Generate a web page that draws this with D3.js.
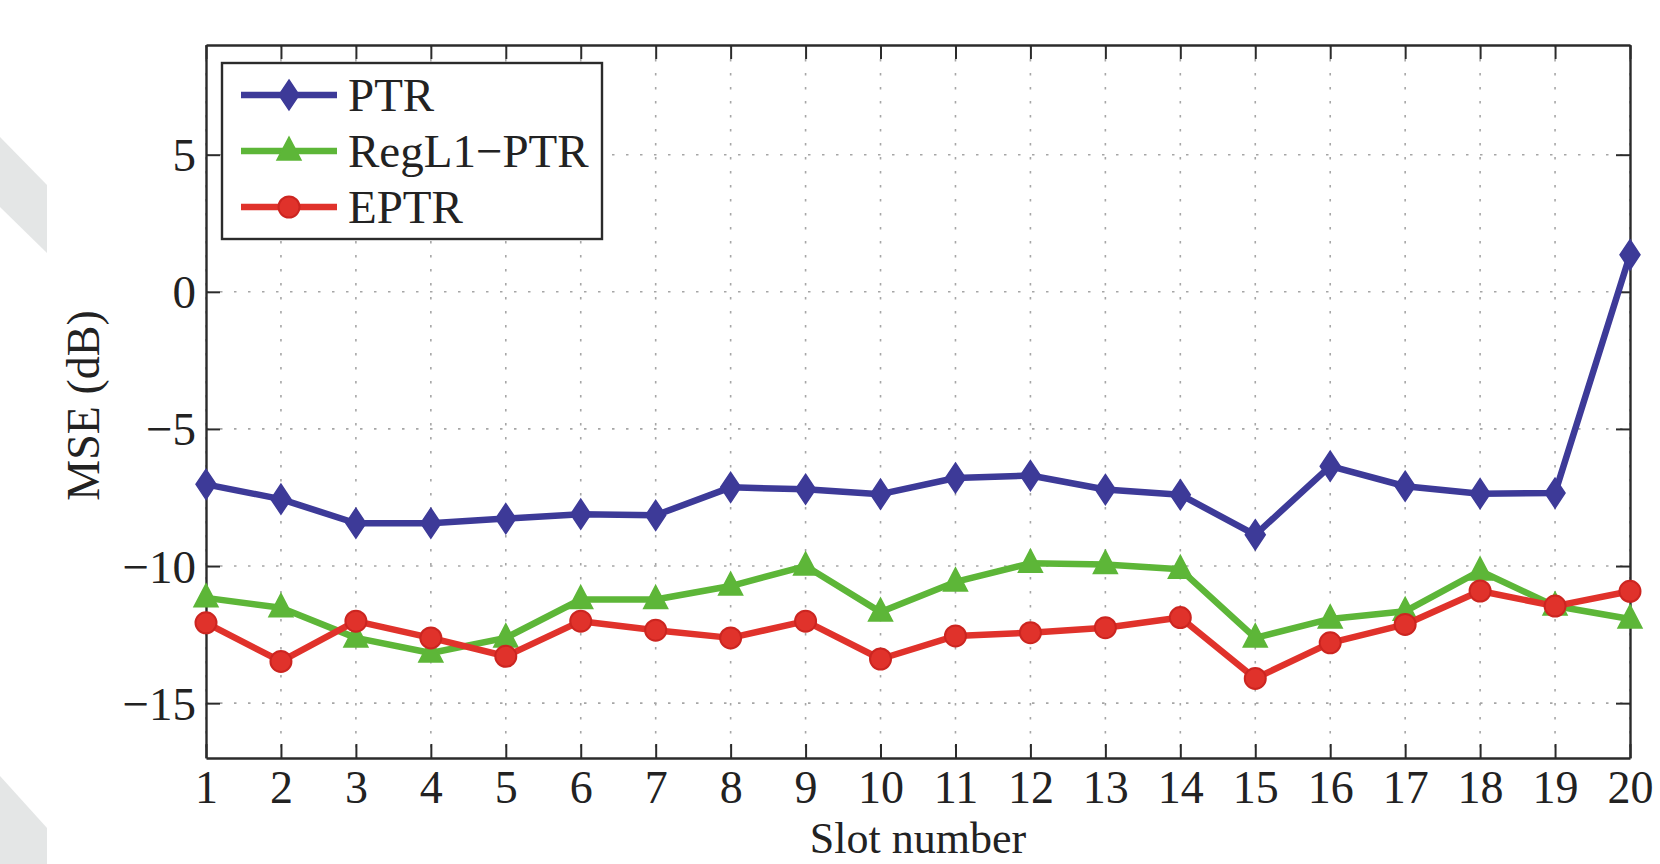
<!DOCTYPE html>
<html>
<head>
<meta charset="utf-8">
<script src="https://cdn.jsdelivr.net/npm/d3@7"></script>
<style>
  body { margin: 0; background: #fff; }
  svg { display: block; }
  text { font-family: "Liberation Serif", "DejaVu Serif", serif; fill: #222; }
</style>
</head>
<body>
<div id="chart-area"></div>
<script>

// slot numbers on the x axis
const slots = d3.range(1, 21);

// MSE (dB) per slot
const ptrValues = [-7.02, -7.56, -8.44, -8.44, -8.27, -8.11, -8.15, -7.13, -7.20, -7.38,
                   -6.79, -6.70, -7.21, -7.40, -8.86, -6.36, -7.09, -7.36, -7.34, 1.35];
const regl1Values = [-11.16, -11.52, -12.62, -13.17, -12.62, -11.22, -11.22, -10.73, -10.00, -11.68,
                     -10.58, -9.90, -9.94, -10.12, -12.62, -11.93, -11.65, -10.18, -11.46, -11.93];
const eptrValues = [-12.07, -13.48, -12.01, -12.62, -13.29, -12.01, -12.34, -12.62, -12.01, -13.39,
                    -12.55, -12.43, -12.25, -11.88, -14.10, -12.80, -12.13, -10.91, -11.46, -10.92];

const seriesNames = ["PTR", "RegL1\u2212PTR", "EPTR"];
const yTicks = [-15, -10, -5, 0, 5];

const width = 1660, height = 864;
const margin = {top: 45, right: 30, bottom: 106, left: 206};
const innerW = width - margin.left - margin.right;
const innerH = height - margin.top - margin.bottom;

const svg = d3.select("#chart-area").append("svg")
    .attr("width", width)
    .attr("height", height);

// faint grey watermark bands on the left edge
svg.append("polygon")
    .attr("points", "0,137 47,185 47,253 0,207")
    .attr("fill", "#e4e6e6");
svg.append("polygon")
    .attr("points", "0,776 47,828 47,864 0,864")
    .attr("fill", "#e4e6e6");

const g = svg.append("g")
    .attr("transform", "translate(" + margin.left + "," + margin.top + ")");

// scales
const x = d3.scaleLinear().domain([1, 20]).range([0, innerW]);
const y = d3.scaleLinear().domain([-17, 9]).range([innerH, 0]);

// dotted grid
g.append("g").attr("class", "grid")
    .selectAll("line.vgrid")
    .data(slots)
    .enter().append("line")
    .attr("x1", d => x(d)).attr("x2", d => x(d))
    .attr("y1", 0).attr("y2", innerH)
    .attr("stroke", "#a6a6a6")
    .attr("stroke-width", 1.6)
    .attr("stroke-dasharray", "2.5,11.5");

g.append("g").attr("class", "grid")
    .selectAll("line.hgrid")
    .data(yTicks)
    .enter().append("line")
    .attr("x1", 0).attr("x2", innerW)
    .attr("y1", d => y(d)).attr("y2", d => y(d))
    .attr("stroke", "#a6a6a6")
    .attr("stroke-width", 1.6)
    .attr("stroke-dasharray", "2.5,11.5");

// axes (MATLAB style: inward ticks on all four sides)
const tickLen = 14;
const fmt = d => d < 0 ? "\u2212" + Math.abs(d) : String(d);

const xAxis = g.append("g")
    .attr("class", "x-axis axis")
    .attr("transform", "translate(0," + innerH + ")")
    .call(d3.axisBottom(x).tickValues(slots).tickFormat(d3.format("d"))
        .tickSizeInner(-tickLen).tickSizeOuter(0).tickPadding(12));

g.append("g")
    .attr("class", "x-axis-top axis")
    .call(d3.axisTop(x).tickValues(slots).tickFormat("")
        .tickSizeInner(-tickLen).tickSizeOuter(0));

const yAxis = g.append("g")
    .attr("class", "y-axis axis")
    .call(d3.axisLeft(y).tickValues(yTicks).tickFormat(fmt)
        .tickSizeInner(-tickLen).tickSizeOuter(0).tickPadding(10));

g.append("g")
    .attr("class", "y-axis-right axis")
    .attr("transform", "translate(" + innerW + ",0)")
    .call(d3.axisRight(y).tickValues(yTicks).tickFormat("")
        .tickSizeInner(-tickLen).tickSizeOuter(0));

g.selectAll(".axis path").attr("stroke", "#2b2b2b").attr("stroke-width", 2.4);
g.selectAll(".axis line").attr("stroke", "#2b2b2b").attr("stroke-width", 2);
g.selectAll(".axis text")
    .style("font-family", "'Liberation Serif', serif")
    .style("font-size", "47px")
    .attr("fill", "#222");
xAxis.selectAll("text").style("font-size", "46px").attr("dy", "0.71em");
yAxis.selectAll("text").attr("dy", "0.34em");

// axis titles
svg.append("text")
    .attr("x", margin.left + innerW / 2)
    .attr("y", 853)
    .attr("text-anchor", "middle")
    .style("font-size", "44px")
    .text("Slot number");

svg.append("text")
    .attr("transform", "translate(99," + (margin.top + innerH / 2 + 4) + ") rotate(-90)")
    .attr("text-anchor", "middle")
    .style("font-size", "46px")
    .text("MSE (dB)");

// series
const series = [
    {name: seriesNames[0], values: ptrValues, colour: "#3d3a98", marker: "diamond"},
    {name: seriesNames[1], values: regl1Values, colour: "#5db638", marker: "triangle"},
    {name: seriesNames[2], values: eptrValues, colour: "#e0322b", marker: "circle"}
];

const line = d3.line()
    .x((d, i) => x(slots[i]))
    .y(d => y(d));

function drawMarker(sel, type, colour) {
    if (type === "diamond") {
        sel.append("path").attr("d", "M0,-15 L10,0 L0,15 L-10,0 Z")
            .attr("fill", colour).attr("stroke", colour).attr("stroke-width", 1.5);
    } else if (type === "triangle") {
        sel.append("path").attr("d", "M0,-14 L12,9 L-12,9 Z")
            .attr("fill", colour).attr("stroke", colour).attr("stroke-width", 1.5);
    } else {
        sel.append("circle").attr("r", 10.5)
            .attr("fill", colour).attr("stroke", "#cc2520").attr("stroke-width", 2);
    }
}

series.forEach(s => {
    g.append("path")
        .datum(s.values)
        .attr("fill", "none")
        .attr("stroke", s.colour)
        .attr("stroke-width", 6.5)
        .attr("stroke-linejoin", "round")
        .attr("d", line);

    g.selectAll(".mk-" + s.marker)
        .data(s.values)
        .enter().append("g")
        .attr("class", "mk-" + s.marker)
        .attr("transform", (d, i) => "translate(" + x(slots[i]) + "," + y(d) + ")")
        .each(function () { drawMarker(d3.select(this), s.marker, s.colour); });
});

// legend
const legend = svg.append("g").attr("transform", "translate(222,63)");
legend.append("rect")
    .attr("width", 380).attr("height", 176)
    .attr("fill", "#fff")
    .attr("stroke", "#2b2b2b").attr("stroke-width", 2.4);

series.forEach((s, i) => {
    const row = legend.append("g").attr("transform", "translate(0," + (32 + i * 56) + ")");
    row.append("line")
        .attr("x1", 19).attr("x2", 115)
        .attr("stroke", s.colour).attr("stroke-width", 6.5);
    drawMarker(row.append("g").attr("transform", "translate(67,0)"), s.marker, s.colour);
    row.append("text")
        .attr("x", 126).attr("dy", "0.35em")
        .style("font-size", "47px")
        .text(s.name);
});

</script>
</body>
</html>
